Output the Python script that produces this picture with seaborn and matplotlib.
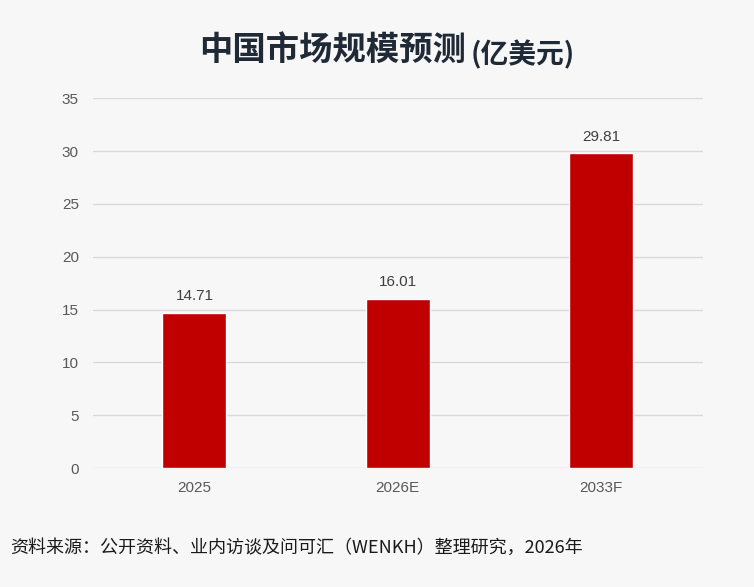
import matplotlib
matplotlib.use("Agg")
import matplotlib.pyplot as plt
import seaborn as sns
import pandas as pd

YEARS = ["2025", "2026E", "2033F"]
MARKET_SIZE = [14.71, 16.01, 29.81]
Y_TICKS = [0, 5, 10, 15, 20, 25, 30, 35]

TITLE = "中国市场规模预测"
TITLE_UNIT = "(亿美元)"
SOURCE = "资料来源：公开资料、业内访谈及问可汇（WENKH）整理研究，2026年"

sns.set_theme(style="white")
plt.rcParams['font.family'] = ['Liberation Sans', 'Noto Sans CJK SC', 'DejaVu Sans']

df = pd.DataFrame({"year": YEARS, "size": MARKET_SIZE})

fig = plt.figure(figsize=(7.54, 5.87), dpi=100, facecolor="#f7f7f7")
ax = fig.add_axes([0.123, 0.2027, 0.809, 0.630])
ax.set_facecolor("none")

sns.barplot(data=df, x="year", y="size", color="#c00000", width=0.315,
            saturation=1, ax=ax, zorder=3)

for i, v in enumerate(MARKET_SIZE):
    ax.text(i, v + 0.9, f"{v:.2f}", ha="center", va="bottom",
            fontsize=11, color="#404040")

ax.set_ylim(0, 35)
ax.set_xlim(-0.5, 2.5)
ax.set_yticks(Y_TICKS)
ax.yaxis.grid(True, color="#d9d9d9", linewidth=1, zorder=0)
ax.set_axisbelow(True)
for s in ax.spines.values():
    s.set_visible(False)
ax.tick_params(axis="both", length=0, colors="#595959", labelsize=11)
ax.tick_params(axis="x", pad=9)
ax.tick_params(axis="y", pad=10)
ax.set_xlabel("")
ax.set_ylabel("")

fig.text(0.618, 0.912, TITLE, ha="right", va="center", fontsize=24,
         fontweight="bold", color="#1f2a36", family=['Noto Sans CJK SC', 'DejaVu Sans'])
fig.text(0.624, 0.907, TITLE_UNIT, ha="left", va="center", fontsize=20,
         fontweight="bold", color="#1f2a36", family=['Noto Sans CJK SC', 'DejaVu Sans'])

fig.text(0.013, 0.066, SOURCE, ha="left", va="center", fontsize=13,
         style="italic", color="#1a1a1a", family=['Noto Sans CJK SC', 'DejaVu Sans'])

fig.savefig("out.png", dpi=100, facecolor=fig.get_facecolor())
